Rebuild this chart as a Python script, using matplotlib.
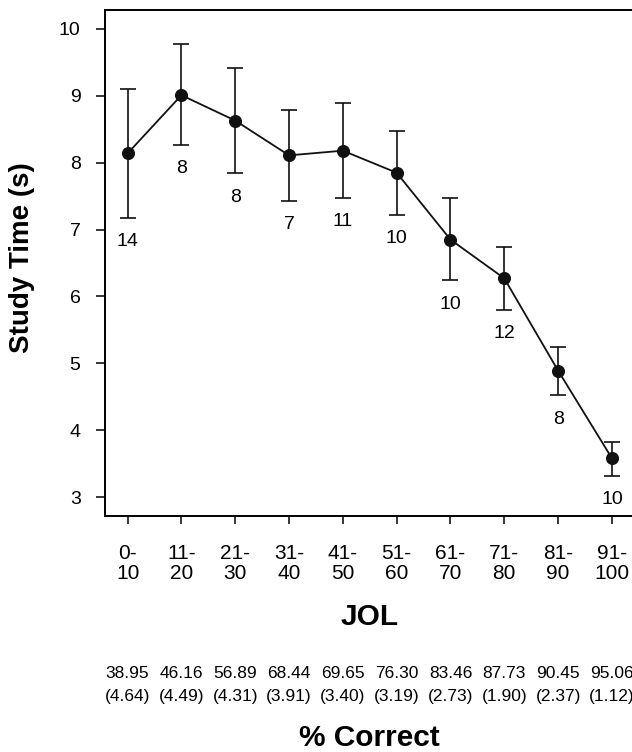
import matplotlib
matplotlib.use("Agg")
import matplotlib.pyplot as plt
import matplotlib.transforms as mtransforms

plt.rcParams['font.family'] = ['Liberation Sans', 'DejaVu Sans']

# data
jol_bins = ["0-\n10", "11-\n20", "21-\n30", "31-\n40", "41-\n50",
            "51-\n60", "61-\n70", "71-\n80", "81-\n90", "91-\n100"]
study_time = [8.14, 9.01, 8.63, 8.11, 8.18, 7.85, 6.85, 6.27, 4.89, 3.58]
err_upper = [9.10, 9.77, 9.41, 8.79, 8.89, 8.48, 7.47, 6.74, 5.25, 3.83]
err_lower = [7.18, 8.27, 7.84, 7.43, 7.47, 7.22, 6.24, 5.80, 4.52, 3.32]
n_items = [14, 8, 8, 7, 11, 10, 10, 12, 8, 10]
pct_correct = ["38.95", "46.16", "56.89", "68.44", "69.65",
               "76.30", "83.46", "87.73", "90.45", "95.06"]
pct_sd = ["(4.64)", "(4.49)", "(4.31)", "(3.91)", "(3.40)",
          "(3.19)", "(2.73)", "(1.90)", "(2.37)", "(1.12)"]

x = list(range(1, len(jol_bins) + 1))
yerr = [[m - lo for m, lo in zip(study_time, err_lower)],
        [hi - m for m, hi in zip(study_time, err_upper)]]

fig = plt.figure(figsize=(6.32, 7.52), dpi=100)
# axes box runs a bit past the right edge of the picture (clipped like the original)
ax = fig.add_axes([0.166, 0.3138, 0.838, 0.6729])

ax.errorbar(x, study_time, yerr=yerr, color='#111111', lw=1.3,
            elinewidth=1.2, capsize=5.6, capthick=1.2,
            marker='o', markersize=8.4, zorder=3)

# n per bin under the lower whisker
for xi, lo, n in zip(x, err_lower, n_items):
    ax.annotate(str(n), (xi, lo), xytext=(0, -17), textcoords='offset points',
                ha='center', va='center', fontsize=14)

ax.set_xlim(0.578, 10.42)
ax.set_ylim(2.716, 10.284)
ax.set_yticks([3, 4, 5, 6, 7, 8, 9, 10])
ax.set_xticks(x)
ax.set_xticklabels(jol_bins, linespacing=1.05)
ax.tick_params(axis='y', labelsize=14, length=6.5, width=1.1, pad=11)
ax.tick_params(axis='x', labelsize=15, length=6, width=1.1, pad=14)

for side in ['left', 'top', 'bottom']:
    ax.spines[side].set_linewidth(1.4)
ax.spines['right'].set_visible(False)

fig.text(22 / 632, 1 - 258 / 752, "Study Time (s)", rotation=90,
         ha='center', va='center', fontsize=20, fontweight='bold')

trans = mtransforms.blended_transform_factory(ax.transData, fig.transFigure)
fig.text(5.5, 1 - 617 / 752, "JOL", transform=trans,
         ha='center', va='center', fontsize=21.5, fontweight='bold')

for xi, p, s in zip(x, pct_correct, pct_sd):
    fig.text(xi, 1 - 674 / 752, p, transform=trans,
             ha='center', va='center', fontsize=12.5)
    fig.text(xi, 1 - 697 / 752, s, transform=trans,
             ha='center', va='center', fontsize=12.5)

fig.text(5.5, 1 - 738 / 752, "% Correct", transform=trans,
         ha='center', va='center', fontsize=21.5, fontweight='bold')

fig.savefig("out.png", dpi=100)
